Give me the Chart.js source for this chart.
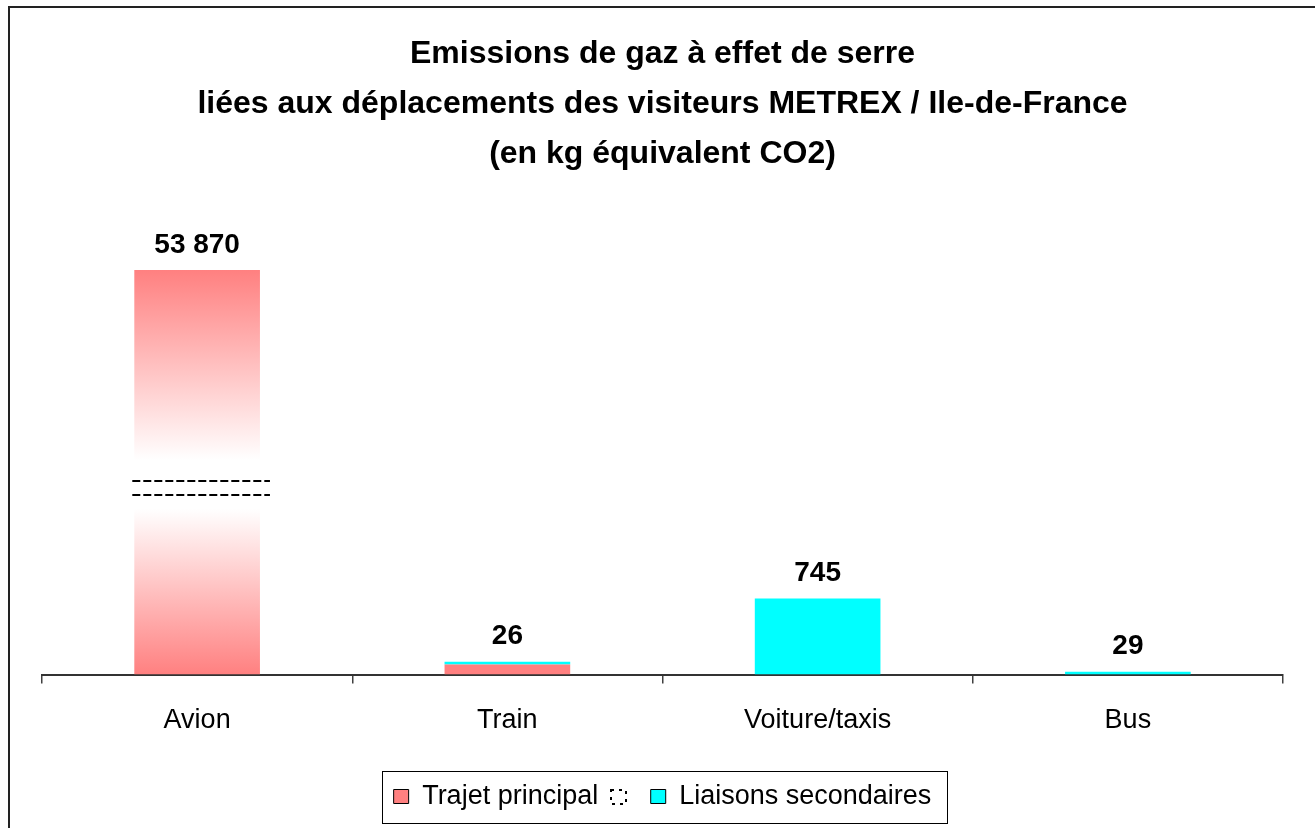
<!DOCTYPE html>
<html>
<head>
<meta charset="utf-8">
<script src="https://cdn.jsdelivr.net/npm/chart.js@4/dist/chart.umd.min.js"></script>
<style>
html, body { margin: 0; padding: 0; background: #fff; overflow: hidden; }
#frame { position: absolute; left: 8px; top: 6px; border: 2px solid #222; width: 1320px; height: 830px; }
canvas { display: block; }
</style>
</head>
<body>
<div id="frame"><canvas id="chart" width="1320" height="820"></canvas></div>
<script>
// --- Data ---
const titleLines = [
    'Emissions de gaz à effet de serre',
    'liées aux déplacements des visiteurs METREX / Ile-de-France',
    '(en kg équivalent CO2)'
];
const categories = ['Avion', 'Train', 'Voiture/taxis', 'Bus'];
const seriesNames = ['Trajet principal', 'Liaisons secondaires'];
// Avion is drawn cut by an axis break (real value 53 870)
const trajetPrincipal = [3960, 100, 0, 0];
const liaisonsSecondaires = [0, 26, 745, 29];
const valueLabels = ['53 870', '26', '745', '29'];
const axisBreak = [1755, 1900];   // values where the dashed break lines cross the Avion bar
const yMax = 4744;

// --- Styles ---
const FONT = "'Liberation Sans', Arial, sans-serif";
const RED = '#FF8080';
const CYAN = '#00FFFF';

// Avion bar: red fading to white around the break
function principalFill(ctx) {
    const chart = ctx.chart;
    if (ctx.type !== 'data' || ctx.dataIndex !== 0 || !chart.chartArea) return RED;
    const y = chart.scales.y;
    const top = y.getPixelForValue(trajetPrincipal[0]);
    const bottom = y.getPixelForValue(0);
    const g = chart.ctx.createLinearGradient(0, top, 0, bottom);
    g.addColorStop(0, RED);
    g.addColorStop(0.47, '#FFFFFF');
    g.addColorStop(0.59, '#FFFFFF');
    g.addColorStop(1, RED);
    return g;
}

// --- Extra drawing: value labels, break lines, legend frame ---
const extrasPlugin = {
    id: 'extras',
    afterDatasetsDraw(chart) {
        const c = chart.ctx, x = chart.scales.x, y = chart.scales.y;
        c.save();
        c.font = 'bold 28px ' + FONT;
        c.fillStyle = '#000';
        c.textAlign = 'center';
        c.textBaseline = 'middle';
        categories.forEach((cat, i) => {
            const top = y.getPixelForValue(trajetPrincipal[i] + liaisonsSecondaires[i]);
            c.fillText(valueLabels[i], x.getPixelForValue(i), top - 25);
        });

        // axis break on the Avion bar
        const bar = chart.getDatasetMeta(0).data[0];
        c.strokeStyle = '#000';
        c.lineWidth = 2;
        c.setLineDash([8, 3]);
        axisBreak.forEach(v => {
            const py = Math.round(y.getPixelForValue(v));
            c.beginPath();
            c.moveTo(bar.x - bar.width / 2 - 2, py);
            c.lineTo(bar.x + bar.width / 2 + 10, py);
            c.stroke();
        });
        c.restore();
    },
    afterDraw(chart) {
        const c = chart.ctx;
        const hb = chart.legend.legendHitBoxes;
        if (!hb || hb.length < 3) return;
        const cy = hb[0].top + hb[0].height / 2;
        c.save();
        // frame
        c.strokeStyle = '#000';
        c.lineWidth = 1;
        const left = hb[0].left - 12;
        const right = hb[2].left + hb[2].width + 15;
        c.strokeRect(Math.round(left) + 0.5, Math.round(cy - 26) + 0.5, Math.round(right - left), 52);
        // break marker in the legend
        c.setLineDash([3, 5]);
        c.lineWidth = 2;
        c.strokeRect(Math.round(hb[1].left) + 1, Math.round(cy - 7), 15, 14);
        c.restore();
    }
};

new Chart(document.getElementById('chart'), {
    type: 'bar',
    data: {
        labels: categories,
        datasets: [
            { label: seriesNames[0], data: trajetPrincipal, backgroundColor: principalFill,
              borderWidth: 0, barPercentage: 0.405, categoryPercentage: 1.0 },
            { label: seriesNames[1], data: liaisonsSecondaires, backgroundColor: CYAN,
              borderWidth: 0, barPercentage: 0.405, categoryPercentage: 1.0 }
        ]
    },
    options: {
        responsive: false,
        animation: false,
        devicePixelRatio: 1,
        layout: { padding: { left: 32, right: 47, top: 0, bottom: 8 } },
        plugins: {
            title: {
                display: true,
                text: titleLines,
                color: '#000',
                font: { family: FONT, size: 32, weight: 'bold', lineHeight: 1.5625 },
                padding: { top: 21, bottom: 11 }
            },
            legend: {
                position: 'bottom',
                labels: {
                    color: '#000',
                    font: { family: FONT, size: 27 },
                    boxWidth: 15,
                    boxHeight: 14,
                    padding: 12,
                    generateLabels: () => [
                        { text: seriesNames[0], fillStyle: RED, strokeStyle: '#000', lineWidth: 1, datasetIndex: 0 },
                        { text: '', fillStyle: 'rgba(0,0,0,0)', strokeStyle: 'rgba(0,0,0,0)', lineWidth: 0 },
                        { text: seriesNames[1], fillStyle: CYAN, strokeStyle: '#000', lineWidth: 1, datasetIndex: 1 }
                    ]
                }
            },
            tooltip: { enabled: false }
        },
        scales: {
            x: {
                stacked: true,
                grid: { offset: true, drawOnChartArea: false, tickLength: 9, color: '#404040', lineWidth: 1.5 },
                border: { display: true, color: '#333333', width: 2 },
                ticks: { color: '#000', font: { family: FONT, size: 27 }, padding: 21 },
                afterFit: s => { s.height += 13; }
            },
            y: { stacked: true, display: false, min: 0, max: yMax }
        }
    },
    plugins: [extrasPlugin]
});
</script>
</body>
</html>
